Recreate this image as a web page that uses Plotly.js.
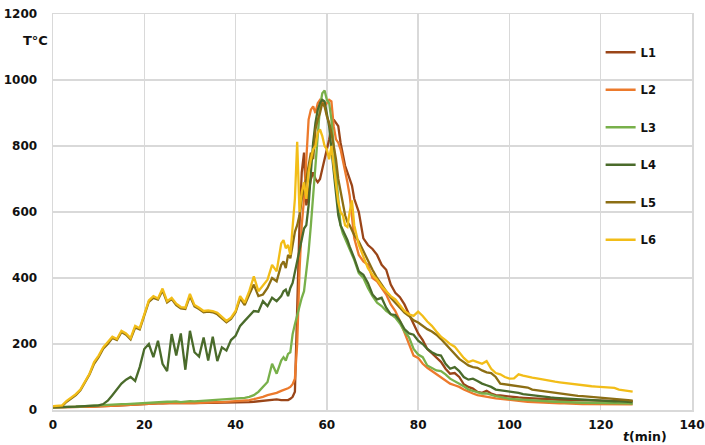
<!DOCTYPE html>
<html>
<head>
<meta charset="utf-8">
<script src="https://cdn.plot.ly/plotly-3.0.1.min.js"></script>
<style>html,body{margin:0;padding:0;background:#fff;}#chart{width:705px;height:445px;}</style>
</head>
<body>
<div id="chart"></div>
<script>
// time (min)
const t = [
 0,1,2,3,4,5,6,7,8,9,10,11,12,13,14,15,16,17,18,19,20,21,22,23,24,25,26,27,28,29,30,31,32,33,34,35,36,37,38,39,40,41,42,43,44,45,46,47,48,49,50,
 50.5,51,51.5,52,52.5,53,53.5,54,54.5,55,55.5,56,56.5,57,57.5,58,58.5,59,59.5,60,60.5,61,61.5,62,62.5,63,63.5,64,64.5,65,65.5,66,
 67,68,69,70,71,72,73,74,75,76,77,78,79,80,81,82,83,84,85,86,87,88,89,90,91,92,93,94,95,96,97,98,99,100,101,102,103,104,105,106,107,108,109,110,111,112,113,114,115,116,117,118,119,120,121,122,123,124,125,126,127
];

const seriesNames = ["L1","L2","L3","L4","L5","L6"];
const seriesColors = ["#9a4518","#ec7a2c","#78b04a","#4a6b2b","#8c6e14","#f2bd18"];

const L1 = [
 8,8,8,8,8,9,9,10,10,10,11,11,12,12,13,14,15,15,16,17,18,18,19,20,20,21,21,22,21,22,22,21,22,22,22,22,22,22,22,22,22,22,23,24,25,26,27,28,30,32,30,
 30,32,30,34,40,55,350,560,720,780,620,660,700,720,700,690,700,730,760,790,820,860,880,870,860,810,770,740,720,700,680,640,
 600,520,500,488,470,440,425,380,355,342,320,290,262,232,212,185,172,160,146,125,110,112,100,78,70,65,55,52,58,50,45,44,42,40,39,38,37,36,35,34,33,33,32,32,31,31,30,30,30,29,29,29,28,28,28,28,28,27,27,27,27
];
const L2 = [
 8,8,8,8,8,9,9,10,10,10,11,11,12,12,13,14,15,15,16,17,18,18,19,20,20,21,21,22,21,22,22,21,22,23,22,23,24,24,25,25,26,27,28,30,33,36,40,45,48,52,58,
 60,62,66,70,78,95,200,420,560,640,760,880,910,920,900,930,940,935,920,930,940,935,860,820,810,790,760,720,690,650,590,520,
 470,450,440,400,390,370,350,320,300,270,235,195,165,158,140,128,118,110,98,90,80,75,70,62,55,50,45,42,40,38,35,34,32,30,29,28,26,25,24,23,22,21,21,20,20,20,19,19,19,18,18,18,18,18,17,17,17,17,17,17,17
];
const L3 = [
 8,8,8,9,10,10,11,12,12,13,14,15,15,16,17,18,18,19,20,20,22,22,23,24,24,25,25,26,24,26,27,26,27,28,27,28,30,30,31,32,33,35,37,40,45,55,70,85,140,110,150,
 160,150,170,175,230,260,290,310,340,360,420,480,560,640,740,830,920,960,968,940,930,880,800,720,620,560,535,520,505,490,470,455,
 415,400,370,345,325,315,300,290,280,262,238,220,185,168,160,135,128,120,118,108,95,88,80,72,62,58,55,50,50,45,42,40,36,34,33,32,30,30,29,28,27,27,26,25,25,24,24,23,23,22,22,22,21,21,21,20,20,20,20,20,19
];
const L4 = [
 8,8,8,9,10,10,11,12,12,13,14,18,28,45,62,80,92,100,88,130,185,200,160,210,140,118,230,165,232,122,240,175,162,220,150,222,148,190,180,212,225,255,270,285,300,298,330,315,340,330,345,
 360,365,345,370,385,420,450,485,520,550,560,620,720,810,870,910,930,940,935,900,860,790,730,650,590,560,545,535,515,495,480,460,
 420,410,385,350,335,340,310,290,288,270,245,232,228,210,200,185,175,168,165,140,125,130,118,100,92,95,88,80,75,70,62,60,60,56,54,52,48,46,44,42,40,40,38,37,36,35,34,33,32,31,30,30,29,28,28,27,26,26,25,25,24
];
const L5 = [
 10,10,12,25,36,45,60,85,108,140,160,186,200,218,212,236,228,214,250,244,286,328,340,335,362,326,336,318,308,306,345,314,306,296,298,296,290,278,266,276,296,338,318,350,380,345,350,370,400,390,440,
 450,430,470,460,500,540,560,590,640,670,700,740,780,760,850,880,900,930,920,890,870,840,800,760,700,660,620,590,570,560,545,530,
 510,480,455,425,400,380,360,340,325,310,295,285,272,265,255,245,238,228,215,200,185,172,155,145,135,130,128,120,114,112,100,80,78,75,74,72,70,68,62,60,58,55,54,52,50,48,46,45,43,42,41,40,39,38,37,36,35,34,32,30,28
];
const L6 = [
 12,12,14,28,38,48,62,88,110,145,165,190,205,222,215,240,232,218,255,248,290,332,345,338,368,330,340,322,312,310,352,318,310,300,302,300,295,282,270,280,300,345,325,360,405,360,378,395,440,420,505,
 515,490,500,470,560,640,813,600,660,690,640,720,760,790,800,840,850,830,800,790,760,800,740,690,630,600,590,560,555,600,635,560,
 500,465,430,410,395,375,360,345,335,318,300,290,285,298,285,268,255,238,222,212,200,192,175,158,145,150,145,140,148,125,112,108,100,95,96,108,104,100,98,96,93,91,88,86,84,82,81,78,77,76,74,72,71,70,68,66,67,62,60,58,56
];
const seriesValues = [L1,L2,L3,L4,L5,L6];

const xTicks = [0,20,40,60,80,100,120,140];
const yTicks = [0,200,400,600,800,1000,1200];

const FONT = "DejaVu Sans, Verdana, sans-serif";

const traces = seriesNames.map((n,i)=>({
  type:"scatter", mode:"lines", name:n, x:t, y:seriesValues[i],
  line:{color:seriesColors[i], width:2.3},
  legendgroup:n
}));

const layout = {
  width:705, height:445,
  margin:{l:53, r:13, t:14, b:35},
  paper_bgcolor:"#fff", plot_bgcolor:"#fff",
  font:{family:FONT, size:12, color:"#111"},
  showlegend:true,
  legend:{x:0.857, xanchor:"left", y:0.94, yanchor:"top", bgcolor:"rgba(0,0,0,0)",
          font:{family:FONT, size:11.5, color:"#111", weight:"bold"}, tracegroupgap:18.5, traceorder:"grouped"},
  xaxis:{range:[0,140], tickvals:xTicks, ticktext:xTicks.map(v=>"<b>"+v+"</b>"),
         showgrid:true, gridcolor:"#d9d9d9", gridwidth:1.5, zeroline:false,
         showline:true, linecolor:"#d9d9d9", linewidth:1.5, mirror:true,
         ticks:"", ticklabelstandoff:3, tickfont:{family:FONT, size:12, color:"#111"}},
  yaxis:{range:[0,1200], tickvals:yTicks, ticktext:yTicks.map(v=>"<b>"+v+"</b>"),
         showgrid:true, gridcolor:"#d9d9d9", gridwidth:1.5, zeroline:false,
         showline:true, linecolor:"#d9d9d9", linewidth:1.5, mirror:true,
         ticks:"", ticklabelstandoff:12, tickfont:{family:FONT, size:12, color:"#111"}},
  annotations:[
    {xref:"paper", yref:"paper", x:-0.028, y:0.932, xanchor:"center", yanchor:"middle", showarrow:false,
     text:"<b>T°C</b>", font:{family:FONT, size:13, color:"#111"}},
    {xref:"paper", yref:"paper", x:0.926, y:-0.066, xanchor:"center", yanchor:"middle", showarrow:false,
     text:"<b><i>t</i>(min)</b>", font:{family:FONT, size:12.5, color:"#111"}}
  ]
};

Plotly.newPlot("chart", traces, layout, {displayModeBar:false, staticPlot:true});
</script>
</body>
</html>
